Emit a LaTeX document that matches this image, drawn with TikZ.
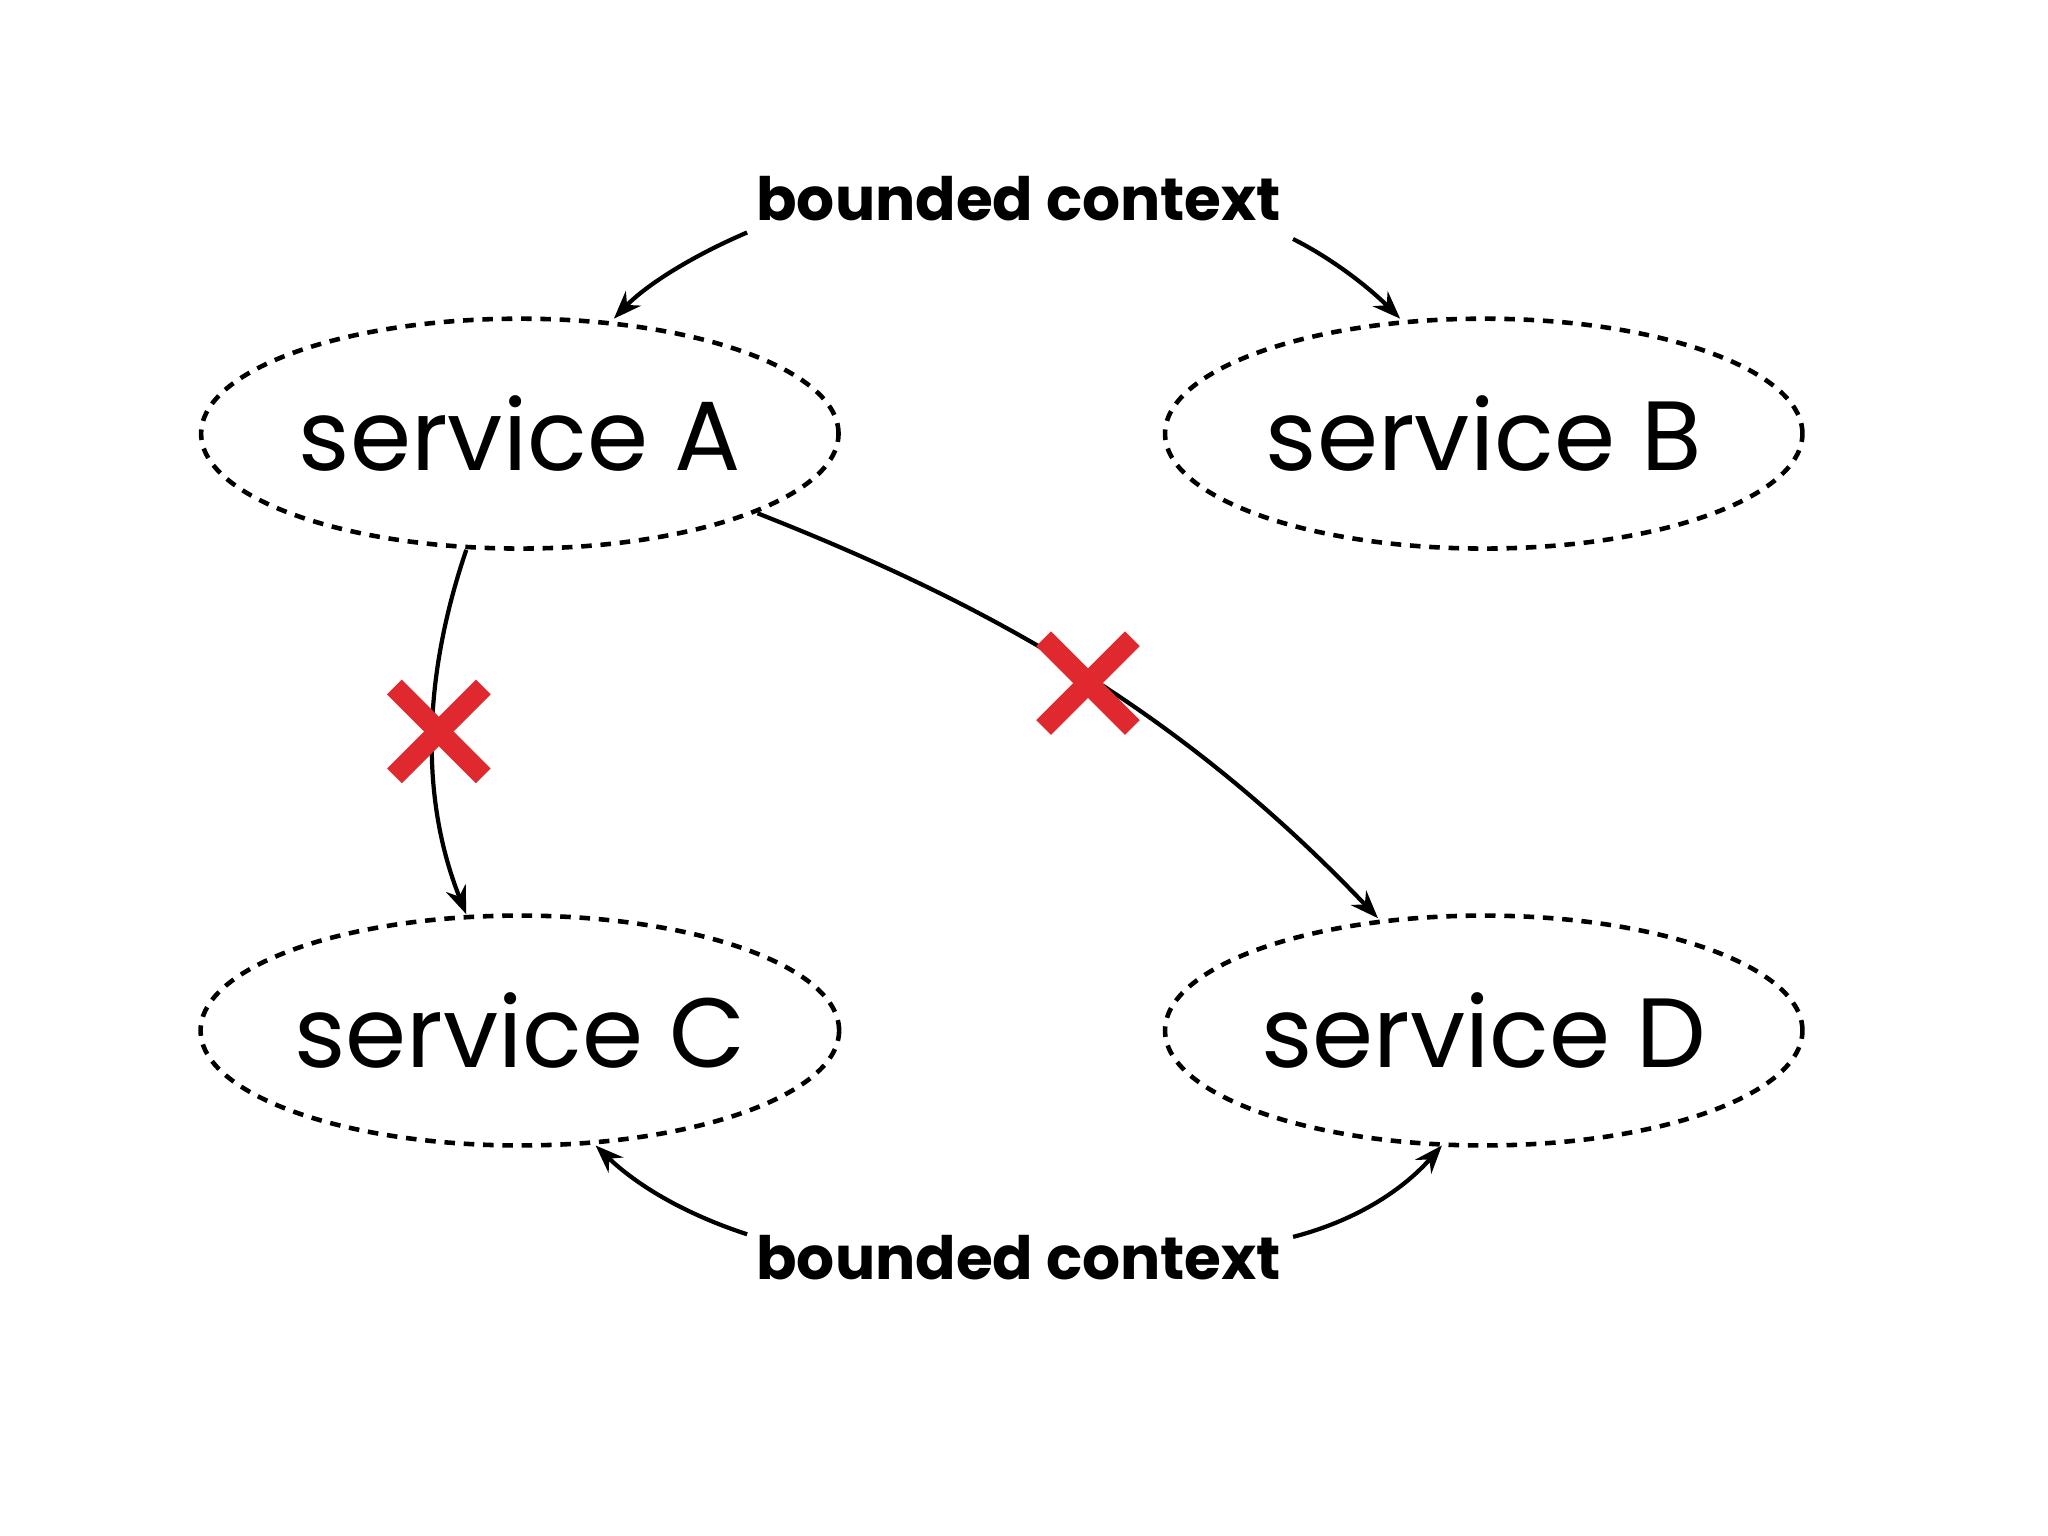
\documentclass[tikz,border=0pt]{standalone}
\usepackage{fontspec}
\setmainfont{Poppins}
\usetikzlibrary{shapes.geometric,arrows.meta}
\definecolor{xred}{HTML}{E0282F}
\begin{document}
\begin{tikzpicture}[x=0.013061cm,y=-0.013061cm,
  svc/.style={draw,ellipse,inner sep=0pt,dash pattern=on 3pt off 2.5pt,line width=1.3pt,minimum width=488*0.013061cm,minimum height=176*0.013061cm,font=\fontsize{28}{32}\selectfont},
  lbl/.style={font=\bfseries\fontsize{17}{20}\selectfont},
  con/.style={line width=1.2pt,-{Stealth[length=8pt,width=6pt]}},
  xmark/.style={xred,line width=16*0.013061cm}]
\useasboundingbox (0,0) rectangle (1568,1176);
\node[svc] (A) at (398,332) {service A};
\node[svc] (B) at (1136,332) {service B};
\node[svc] (C) at (398,789) {service C};
\node[svc] (D) at (1136,789) {service D};
\node[lbl] (t) at (780,152) {bounded context};
\node[lbl] (b) at (780,963) {bounded context};
\coordinate (tl) at (572,178); \coordinate (tr) at (990,183);
\coordinate (bl) at (572,945); \coordinate (br) at (990,947);
\draw[con] (tl) .. controls (530,196) and (495,218) .. (470,244);
\draw[con] (tr) .. controls (1020,198) and (1048,220) .. (1072,244);
\draw[con] (bl) .. controls (520,928) and (485,905) .. (456,877);
\draw[con] (br) .. controls (1040,934) and (1075,910) .. (1104,877);
\draw[con] (357,421) .. controls (320,530) and (325,620) .. (357,700);
\draw[con] (580,393) .. controls (750,460) and (900,540) .. (1055,703);
\foreach \x/\y in {336/560,833/523}{
  \draw[xmark] (\x-34,\y-34) -- (\x+34,\y+34);
  \draw[xmark] (\x-34,\y+34) -- (\x+34,\y-34);}
\end{tikzpicture}
\end{document}
